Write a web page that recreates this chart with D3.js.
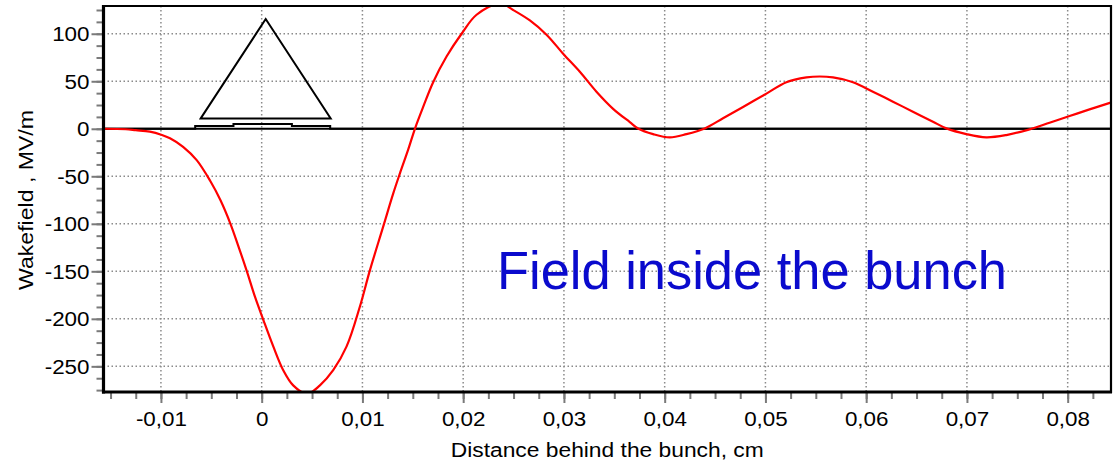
<!DOCTYPE html>
<html>
<head>
<meta charset="utf-8">
<script src="https://cdn.jsdelivr.net/npm/d3@7"></script>
<style>
html,body{margin:0;padding:0;background:#fff;}
svg{display:block;}
text{font-family:"Liberation Sans",Arial,sans-serif;}
</style>
</head>
<body>
<svg id="chart" width="1119" height="461"></svg>
<script>
// ---- data ----
const distance = [-0.0157,-0.0135,-0.0125,-0.0111,-0.0099,-0.0091,-0.0078,-0.00645,-0.0051,-0.0041,-0.0031,-0.0023,-0.0015,-0.00066,0.00016,0.00115,0.00214,0.00313,0.0045,0.00578,0.0071,0.00843,0.00975,0.01074,0.01206,0.01306,0.01372,0.01454,0.01521,0.01603,0.01702,0.01835,0.01984,0.02133,0.0237,0.02496,0.02662,0.02827,0.02992,0.03158,0.03323,0.03488,0.03654,0.0374,0.03885,0.04051,0.04216,0.04398,0.04579,0.04778,0.0501,0.05208,0.05407,0.05539,0.05671,0.05869,0.06067,0.06266,0.06464,0.06663,0.06796,0.06994,0.07192,0.07391,0.07622,0.0782,0.08019,0.08217,0.08426];
const wakefield = [0,-0.5,-1.5,-3,-6.5,-10,-19,-33,-55,-75,-100,-124,-149,-177,-201,-229,-254,-270,-279,-270,-254,-229,-187,-149,-103,-68,-47,-22,0,23,49,76,100,120,132,125,114,99,79,60,39,21,7,0,-5.6,-9,-5.6,0.4,11,23,37,49,54,55,54,49,39,28.5,18,7.4,0.4,-5.6,-9,-6.6,-0.6,6.3,13.4,20.4,27.5];

const bunchX = [-0.0157,-0.0066,-0.0028,0.0030,0.0068,0.0843];
const bunchY = [0,3,5,3,0,0];

const triangleX = [-0.00605,0.0004,0.00685];
const triangleY = [10.9,115.5,10.9];

const xTicks = [-0.01,0,0.01,0.02,0.03,0.04,0.05,0.06,0.07,0.08];
const yTicks = [-250,-200,-150,-100,-50,0,50,100];
const xLabel = "Distance behind the bunch, cm";
const yLabel = "Wakefield , MV/m";
const annotation = "Field inside the bunch";

// ---- layout ----
const svg = d3.select("#chart");
const L = 103.5, R = 1111, T = 6, B = 392;
const x = d3.scaleLinear().domain([-0.0157, 0.0843]).range([L, R]);
const y = d3.scaleLinear().domain([-277, 129.2]).range([B, T]);
const fmt = v => (Math.abs(v) < 1e-12 ? "0" : String(+v.toFixed(4)).replace(".", ","));

svg.append("defs").append("clipPath").attr("id","clip")
  .append("rect").attr("x",L).attr("y",T).attr("width",R-L).attr("height",B-T);

// grid
const grid = svg.append("g").attr("stroke","#8a8a8a").attr("stroke-width",1.5).attr("stroke-dasharray","1.5,2.5");
grid.selectAll("line.gx").data(xTicks).join("line")
  .attr("x1",d=>x(d)).attr("x2",d=>x(d)).attr("y1",T).attr("y2",B);
grid.selectAll("line.gy").data(yTicks.filter(d=>d!==0)).join("line")
  .attr("x1",L).attr("x2",R).attr("y1",d=>y(d)).attr("y2",d=>y(d));

// zero line
svg.append("line").attr("x1",L).attr("x2",R).attr("y1",y(0)).attr("y2",y(0))
  .attr("stroke","#000").attr("stroke-width",2);

// bunch profile
const bunch = bunchX.map((d,i)=>[d,bunchY[i]]);
svg.append("path").datum(bunch)
  .attr("d", d3.line().x(d=>x(d[0])).y(d=>y(d[1])).curve(d3.curveStepAfter))
  .attr("fill","none").attr("stroke","#000").attr("stroke-width",2);

// triangle
const tri = triangleX.map((d,i)=>[d,triangleY[i]]);
svg.append("path").datum(tri)
  .attr("d", d3.line().x(d=>x(d[0])).y(d=>y(d[1])).curve(d3.curveLinearClosed))
  .attr("fill","none").attr("stroke","#000").attr("stroke-width",2);

// wakefield curve
const pts = distance.map((d,i)=>[d,wakefield[i]]);
svg.append("path").datum(pts).attr("clip-path","url(#clip)")
  .attr("d", d3.line().x(d=>x(d[0])).y(d=>y(d[1])).curve(d3.curveCatmullRom.alpha(0.5)))
  .attr("fill","none").attr("stroke","#ff0000").attr("stroke-width",2.2);

// axes via d3 axis generators
const xMinor = d3.range(-0.015, 0.0826, 0.0025);
const yMinor = d3.range(-275, 126, 12.5);
const xAxisMinor = svg.append("g").attr("transform",`translate(0,${B+1})`)
  .call(d3.axisBottom(x).tickValues(xMinor).tickSize(6).tickFormat(""));
const xAxisMajor = svg.append("g").attr("transform",`translate(0,${B+1})`)
  .call(d3.axisBottom(x).tickValues(xTicks).tickSize(10).tickPadding(13).tickFormat(fmt));
const yAxisMinor = svg.append("g").attr("transform",`translate(${L-1},0)`)
  .call(d3.axisLeft(y).tickValues(yMinor).tickSize(6).tickFormat(""));
const yAxisMajor = svg.append("g").attr("transform",`translate(${L-1},0)`)
  .call(d3.axisLeft(y).tickValues(yTicks).tickSize(11).tickPadding(2).tickFormat(fmt));
[xAxisMinor,xAxisMajor,yAxisMinor,yAxisMajor].forEach(g=>{
  g.select(".domain").remove();
  g.selectAll(".tick line").attr("stroke","#7a7a7a").attr("stroke-width",2);
  g.selectAll("text").attr("font-size",20).attr("fill","#000")
    .attr("font-family",'"Liberation Sans",Arial,sans-serif');
});
xAxisMajor.selectAll("text").attr("dy","0").attr("y",33);
yAxisMajor.selectAll("text").attr("dy","0.35em");
[xAxisMajor,yAxisMajor].forEach(g=>g.selectAll("text").each(function(){
  const w=this.getComputedTextLength();
  d3.select(this).attr("textLength",w*1.12).attr("lengthAdjust","spacingAndGlyphs");
}));

// frame
svg.append("line").attr("x1",L).attr("x2",R).attr("y1",T).attr("y2",T).attr("stroke","#000").attr("stroke-width",2.2);
svg.append("line").attr("x1",R).attr("x2",R).attr("y1",T-1).attr("y2",B+1).attr("stroke","#000").attr("stroke-width",2.2);
svg.append("line").attr("x1",L).attr("x2",L).attr("y1",T-1).attr("y2",B+1.5).attr("stroke","#000").attr("stroke-width",3.2);
svg.append("line").attr("x1",L-1.5).attr("x2",R+1).attr("y1",B).attr("y2",B).attr("stroke","#000").attr("stroke-width",3.2);

// axis titles
svg.append("text").attr("x",(L+R)/2).attr("y",457).attr("text-anchor","middle")
  .attr("font-size",20).attr("textLength",313).attr("lengthAdjust","spacingAndGlyphs").text(xLabel);
svg.append("text").attr("transform","translate(33,200) rotate(-90)").attr("text-anchor","middle")
  .attr("font-size",20).attr("textLength",180).attr("lengthAdjust","spacingAndGlyphs").text(yLabel);

// annotation
svg.append("text").attr("x",497).attr("y",289).attr("font-size",54).attr("fill","#0a0acd")
  .attr("textLength",510).attr("lengthAdjust","spacingAndGlyphs").text(annotation);
</script>
</body>
</html>
